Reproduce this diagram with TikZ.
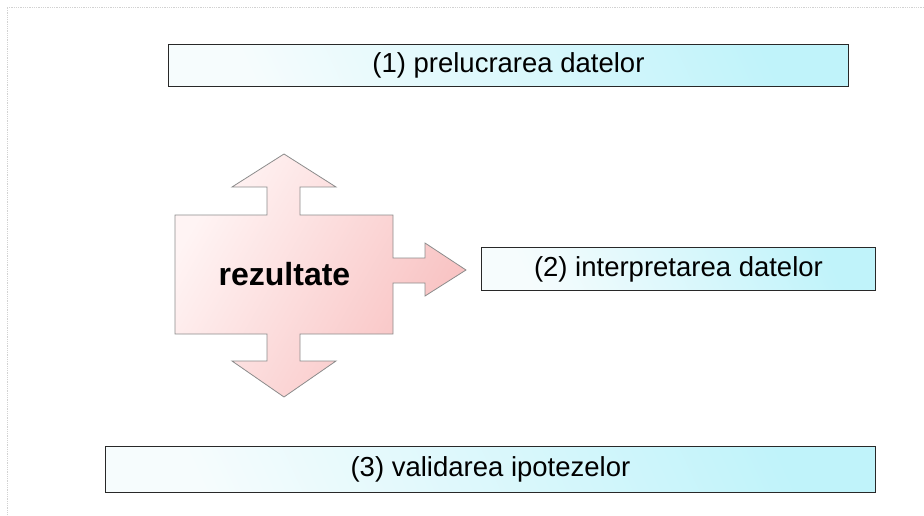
\documentclass[tikz,border=0pt]{standalone}
\usepackage{fontspec}
\setmainfont{Liberation Sans}
\definecolor{boxcyan}{RGB}{192,243,250}
\definecolor{boxlight}{RGB}{246,252,253}
\definecolor{boxpink}{RGB}{248,192,192}
\definecolor{pinklight}{RGB}{255,244,244}
\definecolor{edgegray}{RGB}{40,40,40}
\tikzset{
  stagebox/.style={draw=edgegray, line width=0.9pt, left color=boxlight, right color=boxcyan, shading angle=115, minimum height=42pt, inner sep=0pt, anchor=north west, font=\fontsize{27.5}{30}\selectfont},
  resultshape/.style={draw=gray!90, line width=0.8pt, left color=pinklight, right color=boxpink},
  framestyle/.style={draw=gray!35, line width=0.8pt, densely dotted}
}
\begin{document}
\begin{tikzpicture}[x=1pt,y=-1pt]
\useasboundingbox (0,0) rectangle (924,516);
% frame
\coordinate (ftl) at (7,7);
\coordinate (ftr) at (924,7);
\coordinate (fbl) at (7,516);
\draw[framestyle] (ftr) -- (ftl) -- (fbl);
% boxes
\node[stagebox, minimum width=680pt] (b1) at (168,44) {(1) prelucrarea datelor};
\node[stagebox, minimum width=394pt, minimum height=43pt] (b2) at (481,247) {(2) interpretarea datelor};
\node[stagebox, minimum width=770pt, minimum height=46pt] (b3) at (105,446) {(3) validarea ipotezelor};
% rezultate shape
\path[resultshape, shading angle=60]
  (175,215) -- (267,215) -- (267,187) -- (232,187) -- (284,154) -- (336,187) -- (300,187) -- (300,215)
  -- (393,215) -- (393,258) -- (425,258) -- (425,243) -- (466,270) -- (425,296) -- (425,283) -- (393,283)
  -- (393,334) -- (300,334) -- (300,361) -- (336,361) -- (284,397) -- (232,361) -- (267,361) -- (267,334)
  -- (175,334) -- cycle;
\node[font=\bfseries\fontsize{32}{36}\selectfont, anchor=base, inner sep=0pt] (rez) at (284.5,285) {rezultate};
\end{tikzpicture}
\end{document}
